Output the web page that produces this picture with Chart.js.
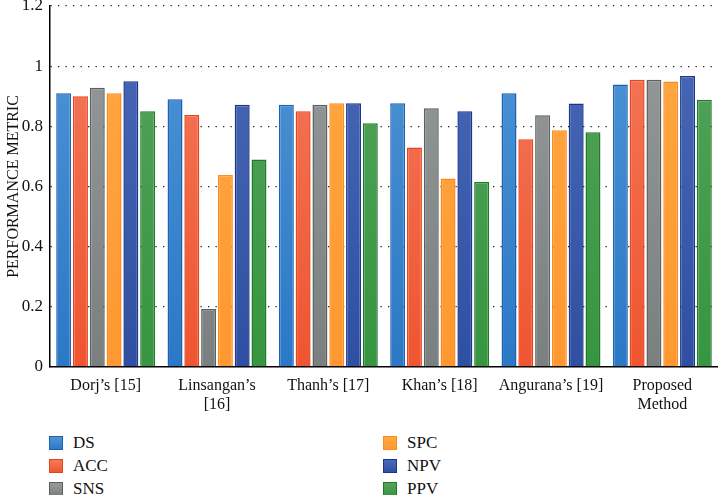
<!DOCTYPE html>
<html>
<head>
<meta charset="utf-8">
<script src="https://cdn.jsdelivr.net/npm/chart.js@4/dist/chart.umd.min.js"></script>
<style>
    html, body { margin: 0; padding: 0; background: #fff; }
    #wrap { position: relative; width: 718px; height: 495px; font-family: "Liberation Serif", "DejaVu Serif", serif; }
    #chartBox { position: absolute; left: 0; top: 0; width: 718px; height: 425px; }
    #legend { position: absolute; left: 0; top: 433px; width: 718px; height: 62px; }
    .item { position: absolute; height: 20px; line-height: 20px; font-size: 17px; color: #111; }
    .item span.box { position: absolute; left: 0; top: 3px; width: 12px; height: 12px; border: 1px solid; }
    .item span.txt { position: absolute; left: 24px; top: 0; white-space: nowrap; }
</style>
</head>
<body>
<div id="wrap">
    <div id="chartBox"><canvas id="metricChart"></canvas></div>
    <div id="legend"></div>
</div>
<script>
// Données du graphique
const methods = [
    "Dorj’s [15]",
    ["Linsangan’s", "[16]"],
    "Thanh’s [17]",
    "Khan’s [18]",
    "Angurana’s [19]",
    ["Proposed", "Method"]
];
const metricNames = ['DS', 'ACC', 'SNS', 'SPC', 'NPV', 'PPV'];

const dsValues  = [0.91, 0.89, 0.872, 0.877, 0.91, 0.939];
const accValues = [0.90, 0.838, 0.85, 0.73, 0.757, 0.955];
const snsValues = [0.928, 0.193, 0.872, 0.86, 0.837, 0.955];
const spcValues = [0.91, 0.638, 0.877, 0.627, 0.787, 0.949];
const npvValues = [0.95, 0.872, 0.877, 0.85, 0.876, 0.967];
const ppvValues = [0.85, 0.69, 0.81, 0.615, 0.78, 0.888];

const yTickLabels = ['0', '0.2', '0.4', '0.6', '0.8', '1', '1.2'];

// Styles (haut clair, bas foncé, bordure)
const barStyles = [
    { top: '#5096d6', bottom: '#2b78c6', border: '#1b62b2' },
    { top: '#f47a5c', bottom: '#ef5530', border: '#e6451a' },
    { top: '#979b9b', bottom: '#7a7f7f', border: '#5a5e5e' },
    { top: '#ffa843', bottom: '#ff9830', border: '#ff8a1c' },
    { top: '#4a6ab8', bottom: '#2f4fa2', border: '#1b368a' },
    { top: '#55a45d', bottom: '#379540', border: '#1e7c28' }
];

const allValues = [dsValues, accValues, snsValues, spcValues, npvValues, ppvValues];
const FONT = '"Liberation Serif", "DejaVu Serif", serif';

function makeGradient(style) {
    return function (context) {
        const area = context.chart.chartArea;
        if (!area) return style.bottom;
        const g = context.chart.ctx.createLinearGradient(0, area.top, 0, area.bottom);
        g.addColorStop(0, style.top);
        g.addColorStop(1, style.bottom);
        return g;
    };
}

const datasets = metricNames.map((name, i) => ({
    label: name,
    data: allValues[i],
    backgroundColor: makeGradient(barStyles[i]),
    borderColor: barStyles[i].border,
    borderWidth: 1.5,
    categoryPercentage: 0.905,
    barPercentage: 0.89
}));

const chart = new Chart(document.getElementById('metricChart').getContext('2d'), {
    type: 'bar',
    data: { labels: methods, datasets: datasets },
    options: {
        responsive: true,
        maintainAspectRatio: false,
        animation: false,
        layout: { padding: 0 },
        plugins: {
            legend: { display: false },
            tooltip: { enabled: false }
        },
        scales: {
            x: {
                grid: { display: false, drawTicks: false },
                border: { display: true, color: '#000', width: 1.5 },
                ticks: {
                    color: '#111',
                    padding: 9,
                    maxRotation: 0,
                    autoSkip: false,
                    font: { family: FONT, size: 16, lineHeight: 1.2 }
                },
                afterFit: (s) => { s.height = 58; }
            },
            y: {
                min: 0,
                max: 1.2,
                grid: {
                    color: (c) => c.tick && c.tick.value === 0 ? 'rgba(0,0,0,0)' : '#222',
                    lineWidth: 1.3,
                    drawTicks: false
                },
                // dash = pointillés des lignes de grille
                border: { display: true, color: '#000', width: 1.5, dash: [1.3, 6.2] },
                ticks: {
                    stepSize: 0.2,
                    color: '#111',
                    padding: 7,
                    font: { family: FONT, size: 17 },
                    callback: (v, i) => yTickLabels[i]
                },
                title: {
                    display: true,
                    text: 'PERFORMANCE METRIC',
                    color: '#111',
                    padding: { top: 4, bottom: 0 },
                    font: { family: FONT, size: 16 }
                },
                afterFit: (s) => { s.width = 50; s.paddingTop = 6; }
            }
        }
    }
});

// Légende HTML en deux colonnes
const legendPos = [
    { x: 49, y: 0 }, { x: 49, y: 23 }, { x: 49, y: 46 },
    { x: 383, y: 0 }, { x: 383, y: 23 }, { x: 383, y: 46 }
];
const legendEl = document.getElementById('legend');
chart.data.datasets.forEach((ds, i) => {
    const item = document.createElement('div');
    item.className = 'item';
    item.style.left = legendPos[i].x + 'px';
    item.style.top = legendPos[i].y + 'px';
    const box = document.createElement('span');
    box.className = 'box';
    box.style.background = 'linear-gradient(' + barStyles[i].top + ',' + barStyles[i].bottom + ')';
    box.style.borderColor = barStyles[i].border;
    const txt = document.createElement('span');
    txt.className = 'txt';
    txt.textContent = ds.label;
    item.appendChild(box);
    item.appendChild(txt);
    legendEl.appendChild(item);
});
</script>
</body>
</html>
